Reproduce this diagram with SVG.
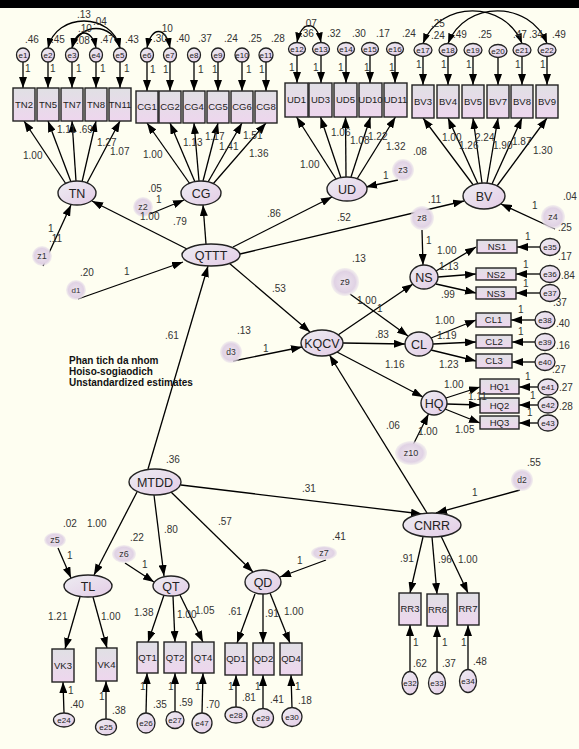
<svg xmlns="http://www.w3.org/2000/svg" width="579" height="749" viewBox="0 0 579 749">
<defs>
<linearGradient id="gl" x1="0" y1="0" x2="1" y2="1">
<stop offset="0" stop-color="#EDEDF2"/><stop offset="1" stop-color="#E4CCE6"/>
</linearGradient>
<linearGradient id="gb" x1="0" y1="0" x2="0" y2="1">
<stop offset="0" stop-color="#E0E0E4"/><stop offset="1" stop-color="#EED6EE"/>
</linearGradient>
<radialGradient id="gd" cx="0.5" cy="0.5" r="0.5">
<stop offset="0" stop-color="#EDE4EE"/><stop offset="0.75" stop-color="#E0D2E4"/><stop offset="1" stop-color="#E8E0EA" stop-opacity="0.5"/>
</radialGradient>
<marker id="ah" markerUnits="userSpaceOnUse" markerWidth="11" markerHeight="8" viewBox="0 0 11 8" refX="11" refY="4" orient="auto">
<path d="M0,0 L11,4 L0,8 z" fill="#000"/>
</marker>
<marker id="ah2" markerUnits="userSpaceOnUse" markerWidth="10" markerHeight="7" viewBox="0 0 10 7" refX="10" refY="3.5" orient="auto-start-reverse">
<path d="M0,0 L10,3.5 L0,7 z" fill="#000"/>
</marker>
</defs>
<style>
.lat{fill:url(#gl);stroke:#222;stroke-width:1.4}
.box{fill:url(#gb);stroke:#222;stroke-width:1.4}
.err{fill:url(#gl);stroke:#222;stroke-width:1.3}
.dis{fill:url(#gd)}
.c{stroke:#000;stroke-width:1.3;fill:none;marker-end:url(#ah)}
.cov{stroke:#000;stroke-width:1.3;fill:none;marker-start:url(#ah2);marker-end:url(#ah2)}
text{font-family:'Liberation Sans',Arial,sans-serif;fill:#333}
.t{font-size:10px}
.ln{font-size:12.5px;text-anchor:middle;fill:#222}
.bn{font-size:9.5px;text-anchor:middle;fill:#222}
.en{font-size:8px;text-anchor:middle;fill:#222}
.zn{font-size:9px;text-anchor:middle}
.title{font-size:10px;font-weight:bold;fill:#111}
</style>
<rect x="0" y="0" width="579" height="749" fill="#FEFEF1"/>
<rect x="0" y="0" width="579" height="8" fill="#000"/>

<g id="connectors">
<path class="cov" d="M48,48 C56,12 112,12 120,48"/>
<path class="cov" d="M72,48 C80,22 112,22 120,48"/>
<path class="cov" d="M72,48 C76,28 92,28 96,48"/>
<path class="cov" d="M147,48 C151,26 166,26 170,48"/>
<path class="cov" d="M297,42.5 C301,20 317,20 321,42.5"/>
<path class="cov" d="M423,43.5 C440,0 505,0 522,43.5"/>
<path class="cov" d="M448,43.5 C465,0 530,0 547,43.5"/>

<path class="c" d="M23,62 V88"/><path class="c" d="M48,62 V88"/><path class="c" d="M72,62 V88"/><path class="c" d="M96,62 V88"/><path class="c" d="M120,62 V88"/>
<path class="c" d="M147,62 V91"/><path class="c" d="M170,62 V91"/><path class="c" d="M194,62 V91"/><path class="c" d="M218,62 V91"/><path class="c" d="M242,62 V91"/><path class="c" d="M266,62 V91"/>
<path class="c" d="M297,55.5 V83"/><path class="c" d="M321,55.5 V83"/><path class="c" d="M346,55.5 V83"/><path class="c" d="M370,55.5 V83"/><path class="c" d="M395,55.5 V83"/>
<path class="c" d="M423,56.5 V85"/><path class="c" d="M448,56.5 V85"/><path class="c" d="M473,56.5 V85"/><path class="c" d="M498,56.5 V85"/><path class="c" d="M522,56.5 V85"/><path class="c" d="M547,56.5 V85"/>

<path class="c" d="M66,184 L24,121"/><path class="c" d="M71,182 L48,121"/><path class="c" d="M76,181 L72,121"/><path class="c" d="M82,182 L96,121"/><path class="c" d="M87,183 L120,121"/>
<path class="c" d="M190,184 L147,123"/><path class="c" d="M195,182 L170,123"/><path class="c" d="M199,181 L194,123"/><path class="c" d="M203,181 L218,123"/><path class="c" d="M208,182 L242,123"/><path class="c" d="M213,184 L266,123"/>
<path class="c" d="M336,179 L296.5,117"/><path class="c" d="M341,178 L320.5,117"/><path class="c" d="M346,177 L345.5,117"/><path class="c" d="M351,177 L370.5,117"/><path class="c" d="M357,179 L395.5,117"/>
<path class="c" d="M474,186 L423,118"/><path class="c" d="M478,184 L448,118"/><path class="c" d="M482,183 L473,118"/><path class="c" d="M487,183 L498,118"/><path class="c" d="M492,184 L522,118"/><path class="c" d="M497,186 L547,118"/>

<path class="c" d="M187,249 L92,201"/>
<path class="c" d="M206,244 L203,205"/>
<path class="c" d="M233,247 L332,197"/>
<path class="c" d="M240,254 L464,201"/>
<path class="c" d="M229,263 L310,332"/>
<path class="c" d="M148,469 L208,266"/>
<path class="c" d="M78,299 L183,262"/>
<path class="c" d="M43,266 L71,205"/>
<path class="c" d="M150,214 L184,200"/>
<path class="c" d="M398,180 L366,187"/>
<path class="c" d="M555,229 L501,204"/>

<path class="c" d="M422,230 L423,265"/>
<path class="c" d="M436,271 L476,247"/>
<path class="c" d="M438,277 L476,274"/>
<path class="c" d="M436,284 L476,293"/>
<path class="c" d="M540,247 L517,247"/><path class="c" d="M540,274 L516,274"/><path class="c" d="M540,293 L516,293"/>
<path class="c" d="M338,335 L413,284"/>
<path class="c" d="M343,343 L405,344"/>
<path class="c" d="M350,294 L408,336"/>
<path class="c" d="M431,338 L476,320"/><path class="c" d="M433,344 L476,342"/><path class="c" d="M431,350 L476,361"/>
<path class="c" d="M535,320 L511,320"/><path class="c" d="M535,342 L512,342"/><path class="c" d="M535,362 L512,362"/>
<path class="c" d="M337,352 L423,397"/>
<path class="c" d="M446,398 L480,387"/><path class="c" d="M447,404 L480,405"/><path class="c" d="M445,409 L480,423"/>
<path class="c" d="M538,387 L519,387"/><path class="c" d="M538,405 L519,405"/><path class="c" d="M538,423 L519,423"/>
<path class="c" d="M412,447 L428.5,414"/>
<path class="c" d="M427,513 L329.5,355"/>
<path class="c" d="M233,361 L302,347"/>
<path class="c" d="M181,485 L422,514"/>
<path class="c" d="M520,490 L436,513"/>

<path class="c" d="M137,492 L94,575"/>
<path class="c" d="M154,495 L164,576"/>
<path class="c" d="M171,492 L253,572"/>
<path class="c" d="M58,548 L71,578"/>
<path class="c" d="M125,563 L154,582"/>
<path class="c" d="M326,560 L280,577"/>
<path class="c" d="M80,597 L65,649"/><path class="c" d="M93,597 L107,648"/>
<path class="c" d="M164,595 L148,642"/><path class="c" d="M173,596 L175,642"/><path class="c" d="M180,595 L203,642"/>
<path class="c" d="M255,594 L237,643"/><path class="c" d="M263,594 L263,643"/><path class="c" d="M270,593 L290,643"/>
<path class="c" d="M423,537 L410,593"/><path class="c" d="M432,537 L437,594"/><path class="c" d="M441,536 L468,593"/>
<path class="c" d="M64,713 L63,682"/><path class="c" d="M106,719 L106,681"/><path class="c" d="M146,713 L147,673"/><path class="c" d="M175,712 L175,673"/><path class="c" d="M202,713 L203,673"/>
<path class="c" d="M236,707 L236,675"/><path class="c" d="M263,709 L263,675"/><path class="c" d="M292,708 L291,675"/>
<path class="c" d="M410,672 L410,625"/><path class="c" d="M437,672 L437,626"/><path class="c" d="M468,669 L468,625"/>
</g>

<g id="n-TN2"><rect class="box" x="13" y="88" width="22" height="33"/><text class="bn" x="24" y="108">TN2</text></g>
<g id="n-TN5"><rect class="box" x="37" y="88" width="22" height="33"/><text class="bn" x="48" y="108">TN5</text></g>
<g id="n-TN7"><rect class="box" x="61" y="88" width="22" height="33"/><text class="bn" x="72" y="108">TN7</text></g>
<g id="n-TN8"><rect class="box" x="85" y="88" width="22" height="33"/><text class="bn" x="96" y="108">TN8</text></g>
<g id="n-TN11"><rect class="box" x="109" y="88" width="22" height="33"/><text class="bn" x="120" y="108">TN11</text></g>
<g id="n-CG1"><rect class="box" x="136" y="91" width="22" height="32"/><text class="bn" x="147" y="110">CG1</text></g>
<g id="n-CG2"><rect class="box" x="159" y="91" width="22" height="32"/><text class="bn" x="170" y="110">CG2</text></g>
<g id="n-CG4"><rect class="box" x="183" y="91" width="22" height="32"/><text class="bn" x="194" y="110">CG4</text></g>
<g id="n-CG5"><rect class="box" x="207" y="91" width="22" height="32"/><text class="bn" x="218" y="110">CG5</text></g>
<g id="n-CG6"><rect class="box" x="231" y="91" width="22" height="32"/><text class="bn" x="242" y="110">CG6</text></g>
<g id="n-CG8"><rect class="box" x="255" y="91" width="22" height="32"/><text class="bn" x="266" y="110">CG8</text></g>
<g id="n-UD1"><rect class="box" x="285" y="83" width="23" height="34"/><text class="bn" x="296.5" y="103">UD1</text></g>
<g id="n-UD3"><rect class="box" x="309" y="83" width="23" height="34"/><text class="bn" x="320.5" y="103">UD3</text></g>
<g id="n-UD5"><rect class="box" x="334" y="83" width="23" height="34"/><text class="bn" x="345.5" y="103">UD5</text></g>
<g id="n-UD10"><rect class="box" x="359" y="83" width="23" height="34"/><text class="bn" x="370.5" y="103">UD10</text></g>
<g id="n-UD11"><rect class="box" x="384" y="83" width="23" height="34"/><text class="bn" x="395.5" y="103">UD11</text></g>
<g id="n-BV3"><rect class="box" x="412" y="85" width="22" height="33"/><text class="bn" x="423" y="105">BV3</text></g>
<g id="n-BV4"><rect class="box" x="437" y="85" width="22" height="33"/><text class="bn" x="448" y="105">BV4</text></g>
<g id="n-BV5"><rect class="box" x="462" y="85" width="22" height="33"/><text class="bn" x="473" y="105">BV5</text></g>
<g id="n-BV7"><rect class="box" x="487" y="85" width="22" height="33"/><text class="bn" x="498" y="105">BV7</text></g>
<g id="n-BV8"><rect class="box" x="511" y="85" width="22" height="33"/><text class="bn" x="522" y="105">BV8</text></g>
<g id="n-BV9"><rect class="box" x="536" y="85" width="22" height="33"/><text class="bn" x="547" y="105">BV9</text></g>

<g id="n-e1"><ellipse class="err" cx="23" cy="55" rx="6.5" ry="7"/><text class="en" x="23" y="58">e1</text></g>
<g id="n-e2"><ellipse class="err" cx="48" cy="55" rx="6.5" ry="7"/><text class="en" x="48" y="58">e2</text></g>
<g id="n-e3"><ellipse class="err" cx="72" cy="55" rx="6.5" ry="7"/><text class="en" x="72" y="58">e3</text></g>
<g id="n-e4"><ellipse class="err" cx="96" cy="55" rx="6.5" ry="7"/><text class="en" x="96" y="58">e4</text></g>
<g id="n-e5"><ellipse class="err" cx="120" cy="55" rx="6.5" ry="7"/><text class="en" x="120" y="58">e5</text></g>
<g id="n-e6"><ellipse class="err" cx="147" cy="55" rx="6.5" ry="7"/><text class="en" x="147" y="58">e6</text></g>
<g id="n-e7"><ellipse class="err" cx="170" cy="55" rx="6.5" ry="7"/><text class="en" x="170" y="58">e7</text></g>
<g id="n-e8"><ellipse class="err" cx="194" cy="55" rx="6.5" ry="7"/><text class="en" x="194" y="58">e8</text></g>
<g id="n-e9"><ellipse class="err" cx="218" cy="55" rx="6.5" ry="7"/><text class="en" x="218" y="58">e9</text></g>
<g id="n-e10"><ellipse class="err" cx="242" cy="55" rx="7" ry="7"/><text class="en" x="242" y="58">e10</text></g>
<g id="n-e11"><ellipse class="err" cx="266" cy="55" rx="7" ry="7"/><text class="en" x="266" y="58">e11</text></g>
<g id="n-e12"><ellipse class="err" cx="297" cy="49" rx="8.5" ry="6.5"/><text class="en" x="297" y="52">e12</text></g>
<g id="n-e13"><ellipse class="err" cx="321" cy="49" rx="8.5" ry="6.5"/><text class="en" x="321" y="52">e13</text></g>
<g id="n-e14"><ellipse class="err" cx="346" cy="49" rx="8.5" ry="6.5"/><text class="en" x="346" y="52">e14</text></g>
<g id="n-e15"><ellipse class="err" cx="370" cy="49" rx="8.5" ry="6.5"/><text class="en" x="370" y="52">e15</text></g>
<g id="n-e16"><ellipse class="err" cx="395" cy="49" rx="8.5" ry="6.5"/><text class="en" x="395" y="52">e16</text></g>
<g id="n-e17"><ellipse class="err" cx="423" cy="50" rx="9" ry="6.5"/><text class="en" x="423" y="53">e17</text></g>
<g id="n-e18"><ellipse class="err" cx="448" cy="50" rx="9" ry="6.5"/><text class="en" x="448" y="53">e18</text></g>
<g id="n-e19"><ellipse class="err" cx="473" cy="50" rx="9" ry="6.5"/><text class="en" x="473" y="53">e19</text></g>
<g id="n-e20"><ellipse class="err" cx="498" cy="51" rx="9" ry="6.5"/><text class="en" x="498" y="54">e20</text></g>
<g id="n-e21"><ellipse class="err" cx="522" cy="50" rx="9" ry="6.5"/><text class="en" x="522" y="53">e21</text></g>
<g id="n-e22"><ellipse class="err" cx="547" cy="50" rx="9" ry="6.5"/><text class="en" x="547" y="53">e22</text></g>

<g id="n-TN"><ellipse class="lat" cx="77" cy="193" rx="19" ry="12"/><text class="ln" x="77" y="197.5">TN</text></g>
<g id="n-CG"><ellipse class="lat" cx="201" cy="193" rx="20" ry="12"/><text class="ln" x="201" y="197.5">CG</text></g>
<g id="n-UD"><ellipse class="lat" cx="347" cy="189" rx="20" ry="12"/><text class="ln" x="347" y="193.5">UD</text></g>
<g id="n-BV"><ellipse class="lat" cx="484" cy="196" rx="21" ry="13"/><text class="ln" x="484" y="200.5">BV</text></g>
<g id="n-QTTT"><ellipse class="lat" cx="211" cy="255" rx="29" ry="11"/><text class="ln" x="211" y="259.5">QTTT</text></g>
<g id="n-KQCV"><ellipse class="lat" cx="322" cy="343" rx="21" ry="13"/><text class="ln" x="322" y="347.5">KQCV</text></g>
<g id="n-NS"><ellipse class="lat" cx="424" cy="277" rx="14" ry="12"/><text class="ln" x="424" y="281.5">NS</text></g>
<g id="n-CL"><ellipse class="lat" cx="419" cy="344" rx="14" ry="12"/><text class="ln" x="419" y="348.5">CL</text></g>
<g id="n-HQ"><ellipse class="lat" cx="434" cy="403" rx="13" ry="12"/><text class="ln" x="434" y="407.5">HQ</text></g>
<g id="n-MTDD"><ellipse class="lat" cx="155" cy="482" rx="26" ry="13"/><text class="ln" x="155" y="486.5">MTDD</text></g>
<g id="n-CNRR"><ellipse class="lat" cx="432" cy="525" rx="29" ry="12"/><text class="ln" x="432" y="529.5">CNRR</text></g>
<g id="n-TL"><ellipse class="lat" cx="88" cy="586" rx="24" ry="11"/><text class="ln" x="88" y="590.5">TL</text></g>
<g id="n-QT"><ellipse class="lat" cx="171" cy="586" rx="18" ry="10"/><text class="ln" x="171" y="590.5">QT</text></g>
<g id="n-QD"><ellipse class="lat" cx="263" cy="582" rx="18" ry="12"/><text class="ln" x="263" y="586.5">QD</text></g>

<g id="n-NS1"><rect class="box" x="477" y="240" width="40" height="13"/><text class="bn" x="497" y="250">NS1</text></g>
<g id="n-NS2"><rect class="box" x="476" y="268" width="40" height="12"/><text class="bn" x="496" y="277.5">NS2</text></g>
<g id="n-NS3"><rect class="box" x="476" y="287" width="40" height="12"/><text class="bn" x="496" y="296.5">NS3</text></g>
<g id="n-CL1"><rect class="box" x="476" y="313" width="35" height="14"/><text class="bn" x="493.5" y="323.3">CL1</text></g>
<g id="n-CL2"><rect class="box" x="476" y="335" width="36" height="13"/><text class="bn" x="494" y="344.8">CL2</text></g>
<g id="n-CL3"><rect class="box" x="476" y="354" width="36" height="14"/><text class="bn" x="494" y="364.3">CL3</text></g>
<g id="n-HQ1"><rect class="box" x="480" y="379" width="39" height="15"/><text class="bn" x="499.5" y="389.8">HQ1</text></g>
<g id="n-HQ2"><rect class="box" x="480" y="398" width="39" height="15"/><text class="bn" x="499.5" y="408.8">HQ2</text></g>
<g id="n-HQ3"><rect class="box" x="480" y="416" width="39" height="13"/><text class="bn" x="499.5" y="425.8">HQ3</text></g>

<g id="n-e35"><ellipse class="err" cx="550" cy="247" rx="10" ry="8.5"/><text class="en" x="550" y="250">e35</text></g>
<g id="n-e36"><ellipse class="err" cx="550" cy="274" rx="10" ry="8.5"/><text class="en" x="550" y="277">e36</text></g>
<g id="n-e37"><ellipse class="err" cx="550" cy="293" rx="10" ry="8.5"/><text class="en" x="550" y="296">e37</text></g>
<g id="n-e38"><ellipse class="err" cx="545" cy="320" rx="10" ry="8.5"/><text class="en" x="545" y="323">e38</text></g>
<g id="n-e39"><ellipse class="err" cx="545" cy="342" rx="10" ry="8.5"/><text class="en" x="545" y="345">e39</text></g>
<g id="n-e40"><ellipse class="err" cx="545" cy="362" rx="10" ry="8.5"/><text class="en" x="545" y="365">e40</text></g>
<g id="n-e41"><ellipse class="err" cx="548" cy="387" rx="10" ry="8"/><text class="en" x="548" y="390">e41</text></g>
<g id="n-e42"><ellipse class="err" cx="548" cy="405" rx="10" ry="8"/><text class="en" x="548" y="408">e42</text></g>
<g id="n-e43"><ellipse class="err" cx="548" cy="423" rx="10" ry="8"/><text class="en" x="548" y="426">e43</text></g>

<g id="n-VK3"><rect class="box" x="52" y="649" width="22" height="33"/><text class="bn" x="63" y="669">VK3</text></g>
<g id="n-VK4"><rect class="box" x="96" y="648" width="21" height="33"/><text class="bn" x="106.5" y="668">VK4</text></g>
<g id="n-QT1"><rect class="box" x="137" y="642" width="21" height="31"/><text class="bn" x="147.5" y="661">QT1</text></g>
<g id="n-QT2"><rect class="box" x="164" y="642" width="22" height="31"/><text class="bn" x="175" y="661">QT2</text></g>
<g id="n-QT4"><rect class="box" x="192" y="642" width="22" height="31"/><text class="bn" x="203" y="661">QT4</text></g>
<g id="n-QD1"><rect class="box" x="225" y="643" width="22" height="32"/><text class="bn" x="236" y="662">QD1</text></g>
<g id="n-QD2"><rect class="box" x="253" y="643" width="21" height="32"/><text class="bn" x="263.5" y="662">QD2</text></g>
<g id="n-QD4"><rect class="box" x="280" y="643" width="22" height="32"/><text class="bn" x="291" y="662">QD4</text></g>
<g id="n-RR3"><rect class="box" x="399" y="593" width="22" height="32"/><text class="bn" x="410" y="612">RR3</text></g>
<g id="n-RR6"><rect class="box" x="427" y="594" width="21" height="32"/><text class="bn" x="437.5" y="613">RR6</text></g>
<g id="n-RR7"><rect class="box" x="457" y="593" width="22" height="32"/><text class="bn" x="468" y="612">RR7</text></g>

<g id="n-e24"><ellipse class="err" cx="64" cy="720" rx="10.5" ry="7"/><text class="en" x="64" y="723">e24</text></g>
<g id="n-e25"><ellipse class="err" cx="106" cy="727" rx="10.5" ry="8"/><text class="en" x="106" y="730">e25</text></g>
<g id="n-e26"><ellipse class="err" cx="146" cy="723" rx="9" ry="10"/><text class="en" x="146" y="726">e26</text></g>
<g id="n-e27"><ellipse class="err" cx="175" cy="720" rx="9" ry="8.5"/><text class="en" x="175" y="723">e27</text></g>
<g id="n-e47"><ellipse class="err" cx="202" cy="723" rx="10" ry="10"/><text class="en" x="202" y="726">e47</text></g>
<g id="n-e28"><ellipse class="err" cx="236" cy="715" rx="11" ry="8"/><text class="en" x="236" y="718">e28</text></g>
<g id="n-e29"><ellipse class="err" cx="263" cy="718" rx="10.5" ry="9.5"/><text class="en" x="263" y="721">e29</text></g>
<g id="n-e30"><ellipse class="err" cx="292" cy="717" rx="10" ry="9.5"/><text class="en" x="292" y="720">e30</text></g>
<g id="n-e32"><ellipse class="err" cx="410" cy="683" rx="8" ry="11.5"/><text class="en" x="410" y="686">e32</text></g>
<g id="n-e33"><ellipse class="err" cx="437" cy="683" rx="8.5" ry="11"/><text class="en" x="437" y="686">e33</text></g>
<g id="n-e34"><ellipse class="err" cx="468" cy="681" rx="8.5" ry="11.5"/><text class="en" x="468" y="684">e34</text></g>

<g id="n-z1"><circle class="dis" cx="42" cy="256" r="10"/><text class="zn" x="42" y="259">z1</text></g>
<g id="n-z2"><circle class="dis" cx="143" cy="207" r="10"/><text class="zn" x="143" y="210">z2</text></g>
<g id="n-d1"><circle class="dis" cx="76" cy="290" r="10"/><text class="zn" x="76" y="293" style="font-size:8px">d1</text></g>
<g id="n-d3"><circle class="dis" cx="231" cy="352" r="11"/><text class="zn" x="231" y="355" style="font-size:8.5px">d3</text></g>
<g id="n-z3"><circle class="dis" cx="403" cy="170" r="11"/><text class="zn" x="403" y="173">z3</text></g>
<g id="n-z4"><circle class="dis" cx="553" cy="217" r="12"/><text class="zn" x="553" y="220">z4</text></g>
<g id="n-z8"><circle class="dis" cx="422" cy="218" r="12"/><text class="zn" x="422" y="221">z8</text></g>
<g id="n-z9"><circle class="dis" cx="345" cy="282" r="14"/><text class="zn" x="345" y="285">z9</text></g>
<g id="n-z10"><ellipse class="dis" cx="411" cy="453" rx="16" ry="12"/><text class="zn" x="411" y="456">z10</text></g>
<g id="n-d2"><circle class="dis" cx="522" cy="480" r="11"/><text class="zn" x="522" y="483" style="font-size:8.5px">d2</text></g>
<g id="n-z5"><ellipse class="dis" cx="55" cy="540" rx="11" ry="7.5"/><text class="zn" x="55" y="543">z5</text></g>
<g id="n-z6"><ellipse class="dis" cx="124" cy="554" rx="12" ry="9"/><text class="zn" x="124" y="557">z6</text></g>
<g id="n-z7"><ellipse class="dis" cx="324" cy="553" rx="13" ry="7"/><text class="zn" x="324" y="556">z7</text></g>

<g id="labels" class="t">
<text x="25" y="43">.46</text><text x="51" y="43">.45</text><text x="76" y="44">.08</text><text x="100" y="43">.47</text><text x="125" y="43">.43</text>
<text x="77" y="18">.13</text><text x="93" y="25">.04</text><text x="78" y="32">.10</text>
<text x="25" y="72">1</text><text x="50" y="72">1</text><text x="76" y="72">1</text><text x="100" y="72">1</text><text x="124" y="72">1</text>
<text x="23" y="159">1.00</text><text x="57" y="133">1.11</text><text x="79" y="133">.69</text><text x="97" y="146">1.27</text><text x="110" y="155">1.07</text>

<text x="153" y="42">.30</text><text x="176" y="42">.40</text><text x="198" y="42">.37</text><text x="224" y="42">.24</text><text x="248" y="42">.25</text><text x="271" y="42">.28</text>
<text x="159" y="32">.10</text>
<text x="150" y="73">1</text><text x="163" y="73">1</text><text x="198" y="73">1</text><text x="212" y="73">1</text><text x="246" y="73">1</text><text x="259" y="73">1</text>
<text x="143" y="158">1.00</text><text x="183" y="146">1.13</text><text x="205" y="140">1.17</text><text x="219" y="150">1.41</text><text x="243" y="139">1.51</text><text x="249" y="157">1.36</text>

<text x="303" y="27">.07</text>
<text x="300" y="37">.36</text><text x="327" y="37">.32</text><text x="352" y="37">.30</text><text x="376" y="37">.17</text><text x="402" y="37">.24</text>
<text x="289" y="71">1</text><text x="313" y="71">1</text><text x="338" y="71">1</text><text x="364" y="71">1</text><text x="389" y="71">1</text>
<text x="300" y="168">1.00</text><text x="331" y="136">1.06</text><text x="350" y="144">1.08</text><text x="368" y="140">1.22</text><text x="386" y="150">1.32</text>
<text x="413" y="155">.08</text><text x="383" y="179">1</text>

<text x="431" y="27">.25</text><text x="431" y="39">.24</text>
<text x="453" y="38">.49</text><text x="478" y="38">.25</text><text x="513" y="38">.47</text><text x="529" y="38">.34</text><text x="552" y="38">.49</text>
<text x="416" y="68">1</text><text x="441" y="68">1</text><text x="466" y="68">1</text><text x="515" y="68">1</text><text x="540" y="68">1</text>
<text x="442" y="141">1.00</text><text x="459" y="149">1.26</text><text x="475" y="141">2.24</text><text x="493" y="149">1.90</text><text x="512" y="145">1.87</text><text x="533" y="154">1.30</text>
<text x="428" y="203">.11</text>
<text x="532" y="209">1</text><text x="563" y="200">.04</text><text x="558" y="231">.25</text>

<text x="267" y="217">.86</text><text x="173" y="225">.79</text><text x="337" y="221">.52</text><text x="272" y="292">.53</text><text x="165" y="339">.61</text>
<text x="80" y="276">.20</text><text x="124" y="275">1</text>
<text x="237" y="334">.13</text><text x="263" y="352">1</text>
<text x="48" y="232">1</text><text x="49" y="242">.11</text>
<text x="148" y="192">.05</text><text x="156" y="203">1</text><text x="140" y="220">1.00</text>

<text x="426" y="244">1</text>
<text x="437" y="254">1.00</text><text x="439" y="270">1.13</text><text x="441" y="298">.99</text>
<text x="525" y="240">1</text><text x="523" y="268">1</text><text x="523" y="287">1</text>
<text x="558" y="260">.17</text><text x="561" y="279">.84</text><text x="553" y="306">.37</text>
<text x="352" y="262">.13</text>
<text x="357" y="304">1.00</text><text x="377" y="312">1</text><text x="375" y="338">.83</text>
<text x="435" y="324">1.00</text><text x="437" y="339">1.19</text><text x="439" y="368">1.23</text>
<text x="385" y="368">1.16</text>
<text x="518" y="313">1</text><text x="518" y="335">1</text>
<text x="556" y="327">.40</text><text x="556" y="349">.16</text><text x="552" y="373">.27</text>
<text x="559" y="391">.27</text><text x="559" y="410">.28</text>
<text x="525" y="380">1</text><text x="530" y="399">1</text><text x="527" y="416">1</text>
<text x="444" y="388">1.00</text><text x="468" y="400">1.11</text><text x="455" y="433">1.05</text>
<text x="386" y="429">.06</text><text x="418" y="435">1.00</text>
<text x="527" y="466">.55</text><text x="472" y="496">1</text>
<text x="302" y="492">.31</text><text x="166" y="463">.36</text>
<text x="400" y="562">.91</text><text x="438" y="563">.96</text><text x="458" y="563">1.00</text>
<text x="413" y="646">1</text><text x="442" y="646">1</text><text x="461" y="646">1</text>
<text x="413" y="667">.62</text><text x="442" y="667">.37</text><text x="473" y="665">.48</text>

<text x="63" y="527">.02</text><text x="87" y="527">1.00</text><text x="67" y="559">1</text>
<text x="130" y="541">.22</text><text x="164" y="533">.80</text><text x="142" y="568">1</text>
<text x="218" y="525">.57</text><text x="297" y="564">1</text><text x="332" y="540">.41</text>
<text x="48" y="620">1.21</text><text x="101" y="620">1.00</text>
<text x="134" y="616">1.38</text><text x="177" y="618">1.00</text><text x="195" y="614">1.05</text>
<text x="228" y="615">.61</text><text x="265" y="617">.91</text><text x="284" y="615">1.00</text>
<text x="68" y="694">1</text><text x="70" y="708">.40</text>
<text x="99" y="700">1</text><text x="112" y="714">.38</text>
<text x="140" y="690">1</text><text x="153" y="708">.35</text>
<text x="168" y="690">1</text><text x="179" y="706">.59</text>
<text x="195" y="690">1</text><text x="206" y="708">.70</text>
<text x="228" y="690">1</text><text x="242" y="701">.81</text>
<text x="255" y="690">1</text><text x="270" y="703">.41</text>
<text x="295" y="690">1</text><text x="298" y="704">.18</text>
</g>

<g id="title">
<text class="title" x="69" y="364">Phan tich da nhom</text>
<text class="title" x="69" y="375">Hoiso-sogiaodich</text>
<text class="title" x="69" y="386">Unstandardized estimates</text>
</g>
</svg>
